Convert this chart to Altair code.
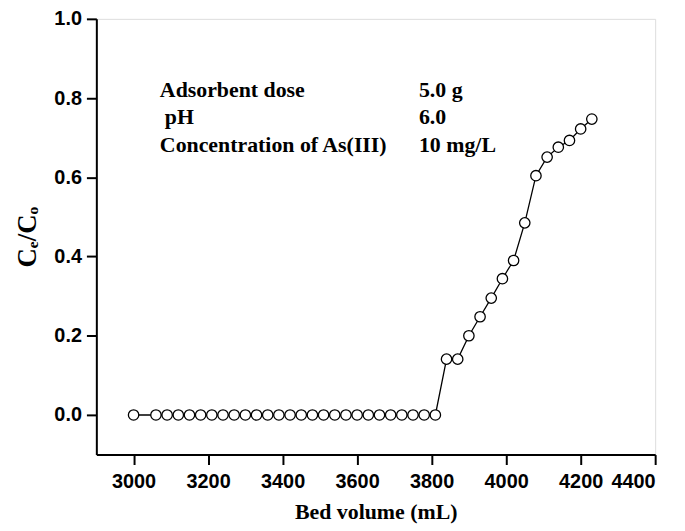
import altair as alt
import pandas as pd

bed_volume = [3000, 3060, 3090, 3120, 3150, 3180, 3210, 3240, 3270, 3300, 3330,
              3360, 3390, 3420, 3450, 3480, 3510, 3540, 3570, 3600, 3630, 3660,
              3690, 3720, 3750, 3780, 3810,
              3840, 3870, 3900, 3930, 3960, 3990, 4020, 4050, 4080, 4110, 4140,
              4170, 4200, 4230]
ce_co = [0.0] * 27 + [0.141, 0.141, 0.20, 0.248, 0.295, 0.344, 0.39, 0.485,
                      0.604, 0.651, 0.676, 0.693, 0.722, 0.747]

x_ticks = [3000, 3200, 3400, 3600, 3800, 4000, 4200, 4400]
y_ticks = [0.0, 0.2, 0.4, 0.6, 0.8, 1.0]

labels_left = ["Adsorbent dose", "pH", "Concentration of As(III)"]
labels_right = ["5.0 g", "6.0", "10 mg/L"]
label_rows = [0, 1, 2]

df = pd.DataFrame({"bv": bed_volume, "c": ce_co})
ann = pd.DataFrame({"left": labels_left, "right": labels_right, "row": label_rows})

W, H = 563, 439

xs = alt.Scale(domain=[2900, 4400], nice=False, zero=False)
ys = alt.Scale(domain=[-0.1, 1.0], nice=False, zero=False)

x_enc = alt.X("bv:Q", scale=xs, axis=alt.Axis(
    values=x_ticks, title="Bed volume (mL)", format="d",
    grid=False, domainColor="black", domainWidth=2,
    tickColor="black", tickWidth=2, tickSize=10,
    labelFont="Liberation Sans", labelFontWeight="bold", labelFontSize=20,
    labelColor="black", labelPadding=7,
    titleFont="Liberation Serif", titleFontWeight="bold", titleFontSize=22,
    titleColor="black", titlePadding=10))
y_enc = alt.Y("c:Q", scale=ys, axis=alt.Axis(
    values=y_ticks, title="Cₑ/Cₒ", format=".1f",
    grid=False, domainColor="black", domainWidth=2,
    tickColor="black", tickWidth=2, tickSize=10,
    labelFont="Liberation Sans", labelFontWeight="bold", labelFontSize=20,
    labelColor="black", labelPadding=5,
    titleFont="Liberation Serif", titleFontWeight="bold", titleFontSize=27,
    titleColor="black", titlePadding=12))

base = alt.Chart(df)
line = base.mark_line(color="black", strokeWidth=1.3).encode(x=x_enc, y=y_enc)
pts = base.mark_point(shape="circle", filled=True, fill="white", stroke="black",
                      strokeWidth=1.3, size=110, opacity=1).encode(x=x_enc, y=y_enc)

row_y = [72, 99, 127]
row_indent = [0, 5, 0]
text_layers = []
for r, py, ind in zip(label_rows, row_y, row_indent):
    for col, px in (("left", 64 + ind), ("right", 325)):
        text_layers.append(
            alt.Chart(ann).transform_filter(alt.datum.row == r).mark_text(
                align="left", baseline="middle", font="Liberation Serif",
                fontWeight="bold", fontSize=22, color="black").encode(
                x=alt.value(px), y=alt.value(py), text=f"{col}:N")
        )

chart = alt.layer(line, pts, *text_layers).properties(
    width=W, height=H,
    autosize=alt.AutoSizeParams(type="none"),
    padding={"left": 89, "top": 9, "right": 22, "bottom": 69},
).configure_view(stroke="black", strokeWidth=2).configure(background="white")

chart.save("out.html", embed_options={"renderer": "svg", "actions": False})
